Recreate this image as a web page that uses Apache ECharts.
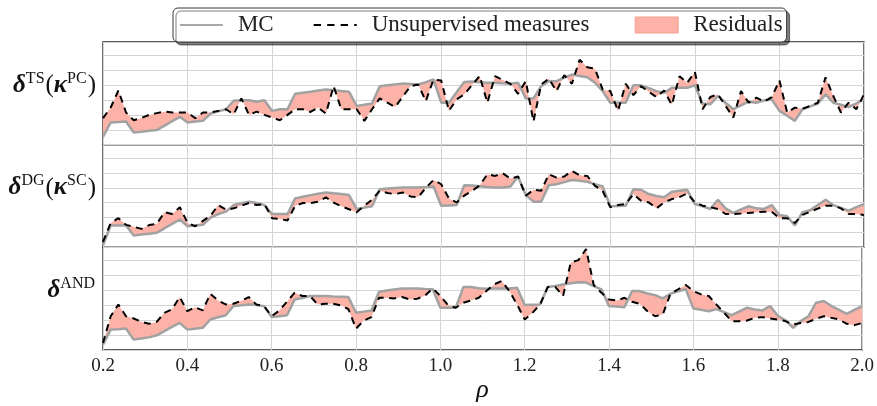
<!DOCTYPE html>
<html><head><meta charset="utf-8">
<script src="https://cdn.jsdelivr.net/npm/echarts@6/dist/echarts.min.js"></script>
<style>html,body{margin:0;padding:0;background:#fff}#c{width:877px;height:406px}</style>
</head><body><div id="c"></div>
<script>
// x values (rho), 100 samples
const rho = [
 0.2,0.2182,0.2364,0.2545,0.2727,0.2909,0.3091,0.3273,0.3455,0.3636,0.3818,
 0.4,0.4182,0.4364,0.4545,0.4727,0.4909,0.5091,0.5273,0.5455,0.5636,0.5818,
 0.6,0.6182,0.6364,0.6545,0.6727,0.6909,0.7091,0.7273,0.7455,0.7636,0.7818,
 0.8,0.8182,0.8364,0.8545,0.8727,0.8909,0.9091,0.9273,0.9455,0.9636,0.9818,
 1.0,1.0182,1.0364,1.0545,1.0727,1.0909,1.1091,1.1273,1.1455,1.1636,1.1818,
 1.2,1.2182,1.2364,1.2545,1.2727,1.2909,1.3091,1.3273,1.3455,1.3636,1.3818,
 1.4,1.4182,1.4364,1.4545,1.4727,1.4909,1.5091,1.5273,1.5455,1.5636,1.5818,
 1.6,1.6182,1.6364,1.6545,1.6727,1.6909,1.7091,1.7273,1.7455,1.7636,1.7818,
 1.8,1.8182,1.8364,1.8545,1.8727,1.8909,1.9091,1.9273,1.9455,1.9636,1.9818,
 2.0];

// Panel 1: delta^TS(kappa^PC)
const mcTS = [0.53,1.49,1.52,1.56,0.82,0.87,0.93,0.98,1.28,1.58,1.87,1.49,1.55,1.6,2.09,2.24,2.38,2.95,2.98,2.98,
 2.89,2.98,2.27,2.38,2.38,3.42,3.49,3.56,3.64,3.71,3.65,3.6,3.56,2.6,2.68,2.76,3.93,3.99,4.05,4.11,
 4.08,4.04,4.2,4.38,2.82,2.82,3.52,4.22,4.25,4.2,4.16,4.16,4.12,4.09,4.16,3.11,3.11,3.93,4.27,4.27,
 4.5,4.71,4.62,4.53,4.16,3.6,2.82,2.82,2.82,3.99,3.99,3.8,3.6,3.49,3.82,3.82,3.82,3.99,2.76,2.71,
 3.27,2.82,2.38,2.64,2.89,2.82,2.98,3.04,2.27,1.94,1.6,2.38,2.57,2.76,3.38,2.82,2.68,2.53,2.78,3.04];
const unTS = [1.78,2.5,3.64,2.16,1.64,1.8,2.0,2.12,2.22,2.16,2.16,2.16,1.78,2.16,2.16,2.27,2.38,2.04,3.11,2.0,
 2.22,2.0,1.82,1.64,2.0,2.38,2.38,2.2,2.49,2.09,3.93,2.38,2.38,2.38,1.6,2.38,3.11,2.82,2.53,3.23,
 3.93,4.04,2.93,4.38,4.31,2.27,3.04,3.38,4.0,4.62,2.82,4.6,4.35,4.09,3.42,4.27,1.56,4.04,4.44,3.6,
 4.67,4.09,5.71,5.2,5.11,3.71,3.6,2.27,4.09,3.33,3.93,3.56,3.2,3.64,2.67,4.6,4.16,4.89,2.38,3.2,
 3.38,2.6,1.82,3.6,2.82,3.16,2.89,3.2,4.31,2.16,2.49,2.42,2.6,2.82,4.53,3.27,2.16,2.82,2.38,3.38];

// Panel 2: delta^DG(kappa^SC)
const mcDG = [0.13,1.47,1.47,1.47,0.8,0.86,0.92,0.98,1.28,1.58,1.87,1.42,1.47,1.51,2.0,2.24,2.4,2.84,2.96,3.07,
 2.98,2.84,2.24,2.24,2.24,3.29,3.4,3.51,3.6,3.69,3.63,3.58,3.51,2.58,2.67,2.76,3.91,3.95,3.99,4.02,
 4.02,4.02,4.05,4.09,2.8,2.82,2.84,4.18,4.15,4.11,4.05,4.02,4.02,4.09,4.76,3.51,3.07,3.07,4.18,4.24,
 4.38,4.53,4.47,4.4,4.25,4.09,2.76,2.78,2.8,3.91,3.87,3.58,3.45,3.36,3.73,3.8,3.87,2.91,2.75,2.58,
 3.2,2.62,2.31,2.55,2.76,2.62,2.58,2.84,2.18,2.09,1.47,2.36,2.5,2.85,3.2,2.84,2.65,2.47,2.7,2.91];
const unDG = [0.36,1.64,1.96,1.51,1.38,1.24,1.5,1.58,2.36,2.24,2.69,1.64,1.42,1.78,2.13,2.84,2.53,2.62,2.8,2.98,
 2.84,2.91,1.96,1.91,1.8,2.8,2.98,2.98,3.07,3.36,3.0,2.76,2.56,2.36,2.8,3.2,3.8,3.65,3.58,3.69,
 3.42,3.36,4.0,4.53,4.24,3.29,3.02,3.47,3.8,4.15,4.91,4.8,4.98,4.62,4.76,3.47,3.87,3.8,4.91,4.69,
 4.76,5.13,4.84,4.8,4.13,3.8,2.69,2.84,2.91,3.58,3.13,3.02,2.62,3.02,3.24,3.38,3.62,3.02,2.8,2.7,
 2.58,2.24,2.24,2.27,2.31,2.36,2.4,2.4,1.96,1.96,1.64,2.18,2.4,2.6,2.8,2.8,2.62,2.24,2.24,2.18];

// Panel 3: delta^AND
const mcAND = [0.36,1.37,1.4,1.44,0.7,0.77,0.85,0.99,1.27,1.55,1.82,1.37,1.43,1.49,2.05,2.2,2.34,2.95,3.0,3.06,
 3.02,2.95,2.21,2.27,2.34,3.4,3.5,3.63,3.63,3.63,3.6,3.58,3.56,2.5,2.58,2.66,3.92,4.0,4.07,4.14,
 4.14,4.14,4.1,4.08,2.84,2.84,2.84,4.23,4.23,4.15,4.11,4.14,4.14,4.14,4.19,3.02,3.04,3.06,4.23,4.3,
 4.4,4.48,4.55,4.53,4.3,4.08,2.95,2.92,2.88,3.96,3.96,3.8,3.69,3.47,3.78,3.95,4.08,2.79,2.7,2.61,
 2.75,2.55,2.34,2.6,2.84,2.72,2.66,2.95,2.3,2.0,1.49,1.94,2.27,3.18,3.29,2.95,2.7,2.43,2.7,2.95];
const unAND = [0.47,2.27,3.06,2.27,2.12,1.9,1.76,1.89,2.5,2.73,3.56,2.61,2.88,2.66,3.78,3.33,3.06,3.11,3.3,3.56,
 3.06,2.95,2.27,2.66,3.25,3.85,3.63,3.63,3.06,3.11,3.11,3.0,2.75,1.44,1.98,2.21,3.51,3.5,3.47,3.56,
 3.4,3.45,3.65,4.14,3.63,3.02,2.84,3.18,3.33,3.51,3.96,4.41,4.64,3.96,3.06,2.05,2.5,3.06,4.23,4.23,
 3.63,5.88,6.04,6.78,4.37,3.85,3.4,3.33,3.51,3.24,3.11,2.61,2.27,2.39,3.78,4.08,4.37,3.96,3.74,3.63,
 3.06,2.5,1.94,1.94,1.98,2.16,2.21,2.12,2.05,1.94,1.71,1.82,1.89,2.1,2.27,2.16,2.05,1.76,1.67,1.82];

const panelNames = [
  '{d|δ}{s|TS}{p|(}{k|κ}{s|PC}{p|)}',
  '{d|δ}{s|DG}{p|(}{k|κ}{s|SC}{p|)}',
  '{d|δ}{s|AND}'
];
const legendNames = ['MC', 'Unsupervised measures', 'Residuals'];
const xLabel = 'ρ';

const PINK = '#fcb2a6';
const GRAY = '#a2a2a2';
const DASH = [7, 5.5];
const SERIF = "'Liberation Serif', 'DejaVu Serif', serif";
const mcs = [mcTS, mcDG, mcAND];
const uns = [unTS, unDG, unAND];

const gridTop = 42, gridH = 102.67;
const grids = [], xAxes = [], yAxes = [], series = [];
for (let p = 0; p < 3; p++) {
  grids.push({left: 103, width: 761, top: gridTop + p * gridH, height: gridH,
    show: true, borderColor: '#262626', borderWidth: 1.3, backgroundColor: 'transparent'});
  const bottom = p === 2;
  xAxes.push({type: 'value', gridIndex: p, min: 0.2, max: 2.0, interval: 0.2,
    axisLine: {show: false}, axisTick: {show: false},
    axisLabel: {show: bottom, margin: 7, fontFamily: SERIF, fontSize: 19, color: '#222',
      formatter: v => v.toFixed(1)},
    splitLine: {show: true, lineStyle: {color: '#d4d4d4', width: 1}},
    name: bottom ? xLabel : '', nameLocation: 'middle', nameGap: 22,
    nameTextStyle: {fontFamily: SERIF, fontStyle: 'italic', fontSize: 26, color: '#111'}});
  yAxes.push({type: 'value', gridIndex: p, min: 0, max: 6.9, interval: 1,
    axisLine: {show: false}, axisTick: {show: false}, axisLabel: {show: false},
    splitLine: {show: true, lineStyle: {color: '#d4d4d4', width: 1}},
    name: panelNames[p], nameLocation: 'middle', nameRotate: 0, nameGap: 7,
    nameTextStyle: {align: 'right', verticalAlign: 'middle', padding: [0, 0, 16, 0],
      rich: {
        d: {fontFamily: SERIF, fontStyle: 'italic', fontWeight: 'bold', fontSize: 25, color: '#111'},
        k: {fontFamily: SERIF, fontStyle: 'italic', fontWeight: 'bold', fontSize: 25, color: '#111'},
        p: {fontFamily: SERIF, fontSize: 25, color: '#111'},
        s: {fontFamily: SERIF, fontSize: 16, color: '#111', padding: [0, 1, 14, 0]}
      }}});
  const mc = mcs[p], un = uns[p];
  series.push({
    name: 'Residuals', type: 'custom', xAxisIndex: p, yAxisIndex: p, z: 1, silent: true,
    itemStyle: {color: PINK},
    data: [[rho[0], mc[0]]],
    renderItem: function (params, api) {
      const pts = [];
      for (let i = 0; i < rho.length; i++) pts.push(api.coord([rho[i], mc[i]]));
      for (let i = rho.length - 1; i >= 0; i--) pts.push(api.coord([rho[i], un[i]]));
      return {type: 'polygon', shape: {points: pts}, style: {fill: PINK}};
    }
  });
  series.push({
    name: 'MC', type: 'line', xAxisIndex: p, yAxisIndex: p, z: 2, symbol: 'none', silent: true,
    data: rho.map((x, i) => [x, mc[i]]),
    itemStyle: {color: GRAY}, lineStyle: {color: GRAY, width: 2.5}
  });
  series.push({
    name: 'Unsupervised measures', type: 'line', xAxisIndex: p, yAxisIndex: p, z: 3, symbol: 'none', silent: true,
    data: rho.map((x, i) => [x, un[i]]),
    itemStyle: {color: '#000'}, lineStyle: {color: '#000', width: 2, type: DASH}
  });
}

const chart = echarts.init(document.getElementById('c'), null, {renderer: 'canvas'});
chart.setOption({
  animation: false,
  backgroundColor: '#fff',
  grid: grids, xAxis: xAxes, yAxis: yAxes, series: series,
  legend: {
    data: [
      {name: legendNames[0], itemStyle: {opacity: 0}, lineStyle: {width: 1.8, color: '#a8a8a8'},
        textStyle: {width: 33}},
      {name: legendNames[1], itemStyle: {opacity: 0}, lineStyle: {width: 2, type: [7.3, 6.2]},
        textStyle: {width: 224}},
      {name: legendNames[2], icon: 'rect', itemStyle: {color: PINK, borderColor: '#f4a193', borderWidth: 1},
        textStyle: {width: 88}}
    ],
    left: 173, top: 8, selectedMode: false,
    padding: [4, 4, 4, 6], itemGap: 39, itemWidth: 43, itemHeight: 16,
    backgroundColor: '#fff', borderColor: '#3a3a3a', borderWidth: 1, borderRadius: 5,
    shadowColor: 'rgba(0,0,0,0.5)', shadowOffsetX: 3, shadowOffsetY: 3, shadowBlur: 0,
    textStyle: {fontFamily: SERIF, fontSize: 23, lineHeight: 26, color: '#222', padding: [0, 0, 0, 10]}
  }
});
</script></body></html>
